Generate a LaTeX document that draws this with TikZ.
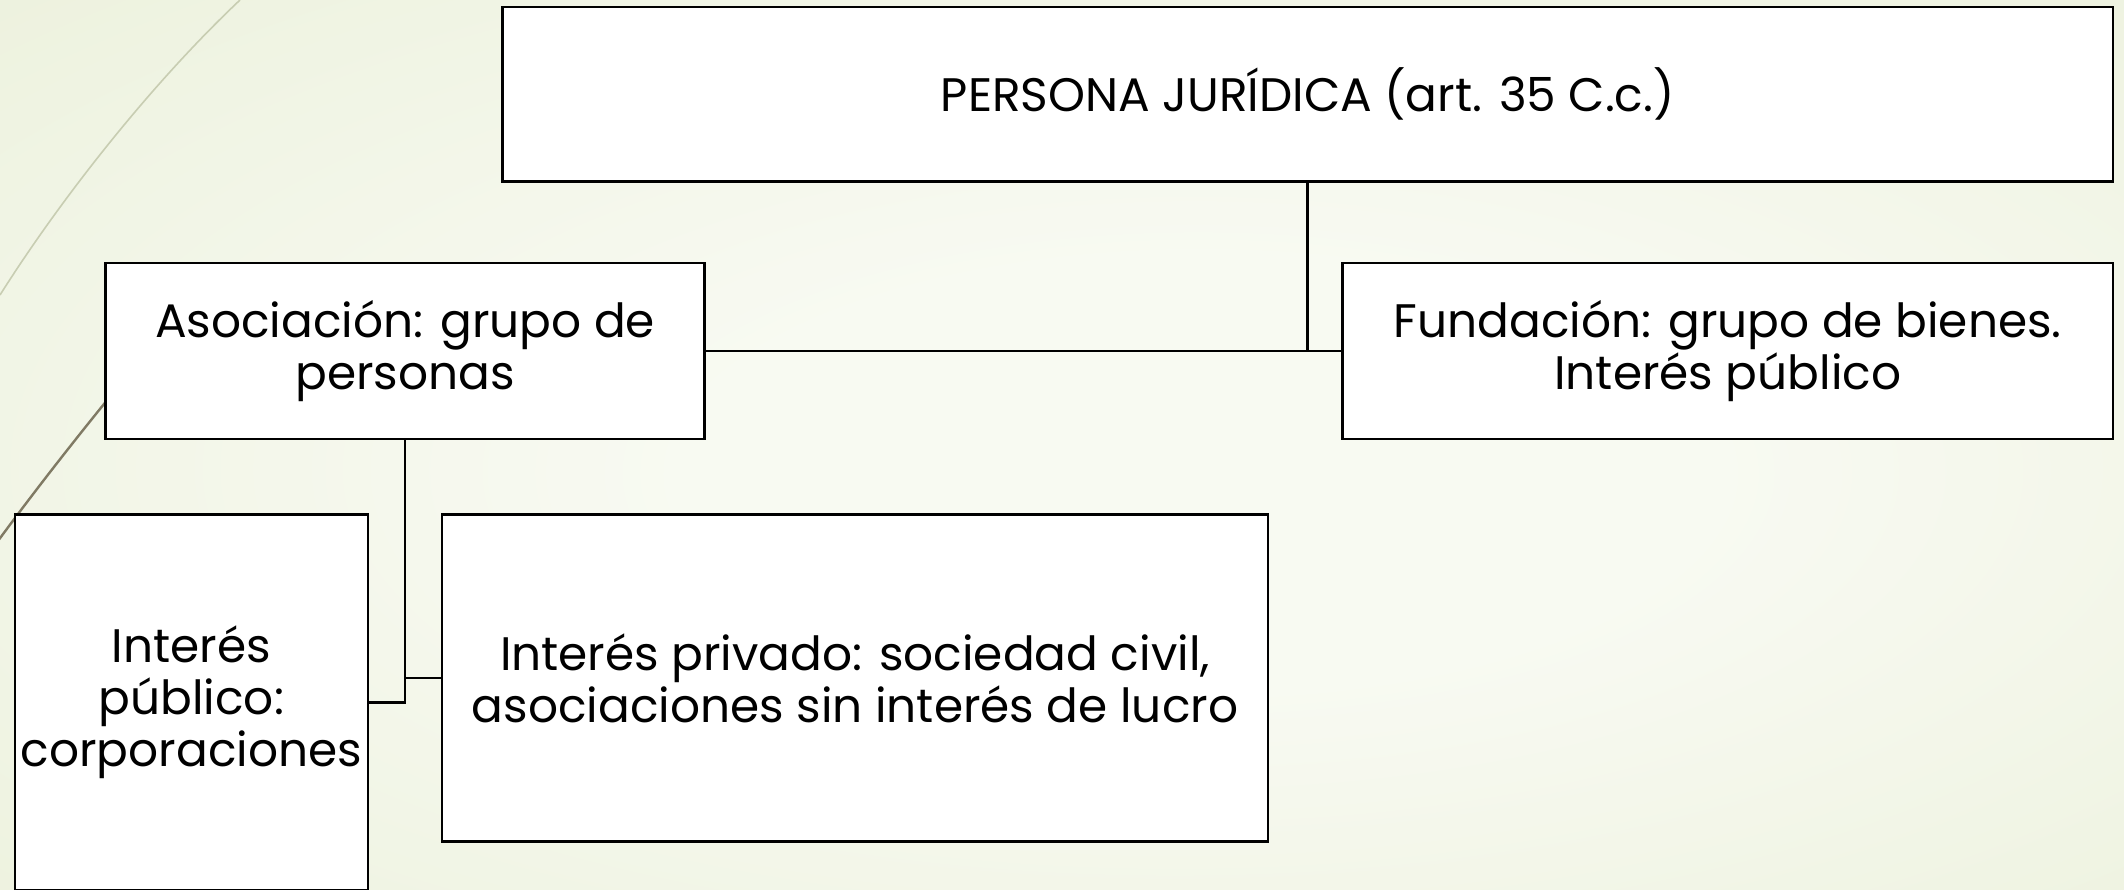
\documentclass[tikz,border=0pt]{standalone}
\usepackage{fontspec}
\setmainfont{Poppins}
\definecolor{bgin}{RGB}{248,250,242}
\definecolor{bgout}{RGB}{224,232,199}
\definecolor{wisplight}{RGB}{200,205,178}
\definecolor{wispdark}{RGB}{128,122,100}
\pgfdeclareradialshading{wispbg}{\pgfpoint{4bp}{-2bp}}{color(0bp)=(bgin); color(12bp)=(bgin); color(68bp)=(bgout)}
\begin{document}
\begin{tikzpicture}[x=0.5pt,y=-0.5pt,
    orgbox/.style={draw,line width=1.3pt,fill=white,inner sep=0pt,align=center,
      font=\fontsize{23.5}{26}\selectfont}]
      \useasboundingbox (0,0) rectangle (2124,889);
      \clip (0,0) rectangle (2124,889);
      \shade[shading=wispbg] (0,0) rectangle (2124,889);
      \draw[wisplight,line width=0.8pt] (240,0) .. controls (150,85) and (60,200) .. (0,295);
      \draw[wispdark,line width=1.2pt] (190,300) .. controls (110,395) and (50,470) .. (-5,545);
      \node[orgbox,minimum width=805.25pt,minimum height=87.25pt] (top) at (1307.75,94.25)
        {PERSONA JURÍDICA (art. 35 C.c.)};
      \node[orgbox,minimum width=299.35pt,minimum height=88pt] (asoc) at (405,351)
        {Asociación: grupo de\\personas};
      \node[orgbox,minimum width=385.25pt,minimum height=88pt] (fund) at (1727.75,351)
        {Fundación: grupo de bienes.\\Interés público};
      \node[orgbox,minimum width=176.6pt,minimum height=187.75pt] (pub) at (191.4,702.25)
        {Interés\\público:\\corporaciones};
      \node[orgbox,minimum width=413pt,minimum height=163.6pt] (priv) at (855,678.1)
        {Interés privado: sociedad civil,\\asociaciones sin interés de lucro};
      \begin{scope}[line width=1.3pt]
        \draw (asoc.east) -- (fund.west);
        \draw (top.south) -- (top.south |- asoc.east);
        \draw (asoc.south) |- (pub.east);
        \draw (asoc.south |- priv.west) -- (priv.west);
      \end{scope}
    \end{tikzpicture}
\end{document}
